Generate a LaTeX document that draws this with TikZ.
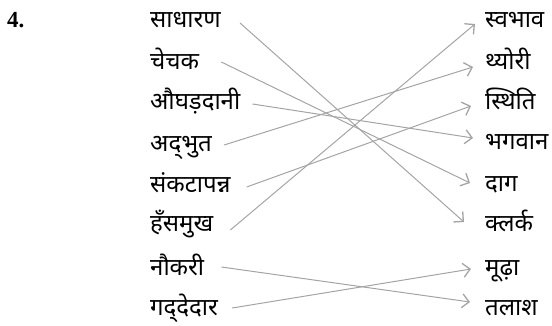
\documentclass[tikz,border=0pt]{standalone}
\usepackage{fontspec}
\setmainfont{Liberation Serif}
\newfontfamily\deva[Script=Devanagari]{Noto Sans}
\usetikzlibrary{arrows.meta}
\definecolor{linkgray}{HTML}{A4A4A4}
\begin{document}
\begin{tikzpicture}[x=1pt,y=-1pt,
  word/.style={anchor=base west, inner sep=0pt, font=\deva\fontsize{24}{28}\selectfont, text=black},
  link/.style={draw=linkgray, line width=1pt, -{Straight Barb[length=7pt,width=14pt,line width=1.3pt]}},
]
\useasboundingbox (0,0) rectangle (552,326);
\node[anchor=base west, inner sep=0pt, font=\bfseries\fontsize{23}{26}\selectfont] (num) at (7,28) {4.};
% left column
\node[word] (l1) at (150,28) {साधारण};
\node[word] (l2) at (150,70) {चेचक};
\node[word] (l3) at (150,110) {औघड़दानी};
\node[word] (l4) at (150,152) {अद्^^^^200cभुत};
\node[word] (l5) at (150,193) {संकटापन्न};
\node[word] (l6) at (150,232) {हँसमुख};
\node[word] (l7) at (150,276) {नौकरी};
\node[word] (l8) at (150,315) {गद्^^^^200cदेदार};
% right column
\node[word] (r1) at (485,28) {स्वभाव};
\node[word] (r2) at (485,70) {थ्योरी};
\node[word] (r3) at (485,110) {स्थिति};
\node[word] (r4) at (485,150) {भगवान};
\node[word] (r5) at (485,192) {दाग};
\node[word] (r6) at (485,232) {क्लर्क};
\node[word] (r7) at (485,275) {मूढ़ा};
\node[word] (r8) at (485,315) {तलाश};
% connectors
\draw[link] ([xshift=19pt,yshift=5pt]l1.base east) -- ([xshift=-21pt,yshift=10pt]r6.base west);
\draw[link] ([xshift=22pt,yshift=8pt]l2.base east) -- ([xshift=-15pt,yshift=9pt]r5.base west);
\draw[link] ([xshift=12pt,yshift=6pt]l3.base east) -- ([xshift=-12pt,yshift=12pt]r4.base west);
\draw[link] ([xshift=12pt,yshift=7pt]l4.base east) -- ([xshift=-12pt,yshift=3pt]r2.base west);
\draw[link] ([xshift=16pt,yshift=6pt]l5.base east) -- ([xshift=-14pt,yshift=4pt]r3.base west);
\draw[link] ([xshift=17pt,yshift=2pt]l6.base east) -- ([xshift=-10pt,yshift=4pt]r1.base west);
\draw[link] ([xshift=17pt,yshift=9pt]l7.base east) -- ([xshift=-15pt,yshift=13pt]r8.base west);
\draw[link] ([xshift=14pt,yshift=7pt]l8.base east) -- ([xshift=-14pt,yshift=6pt]r7.base west);
\end{tikzpicture}
\end{document}
